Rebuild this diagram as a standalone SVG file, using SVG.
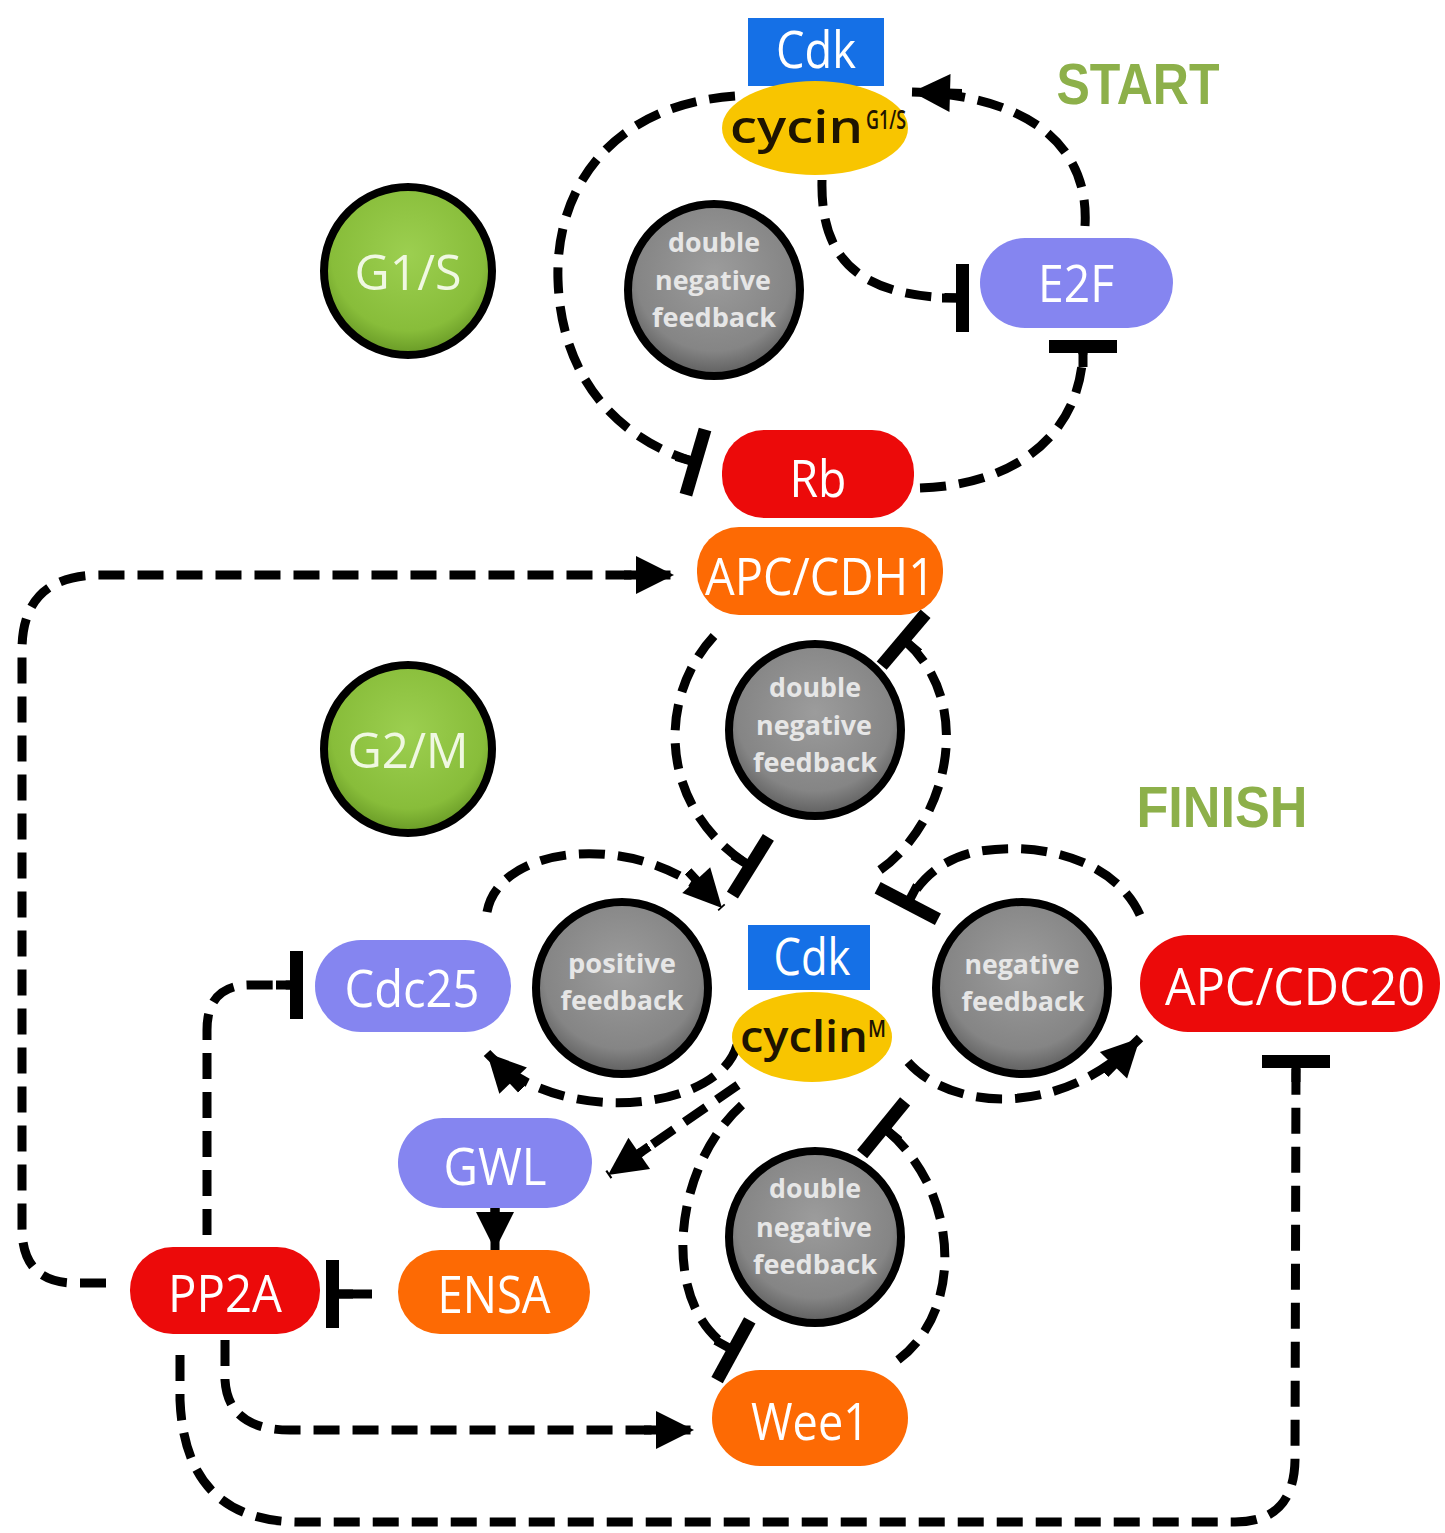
<svg xmlns="http://www.w3.org/2000/svg" width="1445" height="1533" viewBox="0 0 1445 1533">
<defs>
<style>
.dash{fill:none;stroke:#000;stroke-width:9;stroke-dasharray:26 13;}
.solid{fill:none;stroke:#000;stroke-width:9;}
.lbl{font-family:"Open Sans","Noto Sans",sans-serif;fill:#fff;text-anchor:middle;font-size:52px;}
.fb{font-family:"Open Sans","Noto Sans",sans-serif;font-weight:bold;fill:#e6e6e6;font-size:27px;text-anchor:middle;}
.cyc{font-family:"Open Sans","Noto Sans",sans-serif;font-weight:600;fill:#1e1400;}
.gtxt{font-family:"Open Sans","Noto Sans",sans-serif;fill:#f0f8e2;text-anchor:middle;font-size:50px;}
.phase{font-family:"Liberation Sans",Arial,sans-serif;font-weight:bold;fill:#8db04a;text-anchor:middle;font-size:58px;}
.gray{fill:url(#gGray);stroke:#000;stroke-width:8;}
.green{fill:url(#gGreen);stroke:#000;stroke-width:8;}
.blue{fill:#1570e6;}
.yel{fill:#f8c500;}
.lav{fill:#8585f0;}
.red{fill:#ec0a0a;}
.org{fill:#fd6a04;}
</style>
<radialGradient id="gGray" cx="50%" cy="40%" r="65%">
<stop offset="0" stop-color="#9c9c9c"/><stop offset="0.7" stop-color="#858585"/><stop offset="1" stop-color="#505050"/>
</radialGradient>
<radialGradient id="gGreen" cx="50%" cy="40%" r="65%">
<stop offset="0" stop-color="#9ccf50"/><stop offset="0.7" stop-color="#88bd3a"/><stop offset="1" stop-color="#5c8c1e"/>
</radialGradient>
<marker id="arr" viewBox="-12 -20 52 40" markerWidth="52" markerHeight="40" refX="38" refY="0" orient="auto" markerUnits="userSpaceOnUse">
<path d="M0,-19 L38,0 L0,19 Z" fill="#000"/><rect x="-12" y="-4.5" width="14" height="9" fill="#000"/>
</marker>
<marker id="tee" viewBox="-20 -36 28 72" markerWidth="28" markerHeight="72" refX="0" refY="0" orient="auto" markerUnits="userSpaceOnUse">
<rect x="-6" y="-34" width="13" height="68" fill="#000"/><rect x="-20" y="-4.5" width="16" height="9" fill="#000"/>
</marker>
</defs>
<rect width="1445" height="1533" fill="#fff"/>

<g id="connectors">
<path class="dash" d="M 735 96 C 610 105 555 190 558 280 C 561 380 620 440 695 462" marker-end="url(#tee)"/>
<path class="dash" d="M 1085 226 C 1090 140 1020 95 912 92" marker-end="url(#arr)"/>
<path class="dash" d="M 822 180 C 820 262 862 298 962 298" marker-end="url(#tee)"/>
<path class="dash" d="M 920 488 C 1020 485 1083 430 1083 347" marker-end="url(#tee)"/>
<path class="dash" d="M 106 1283 L 75 1283 Q 22 1283 22 1228 L 22 650 Q 22 575 100 575 L 674 575" marker-end="url(#arr)"/>
<path class="dash" d="M 714 636 C 655 700 660 810 750 866" marker-end="url(#tee)"/>
<path class="dash" d="M 880 870 C 950 820 975 700 904 640" marker-end="url(#tee)"/>
<path class="dash" d="M 1140 915 C 1115 860 1040 840 975 852 C 940 860 920 880 908 903" marker-end="url(#tee)"/>
<path class="dash" d="M 908 1062 C 950 1110 1060 1120 1140 1038" marker-end="url(#arr)"/>
<path class="dash" d="M 487 912 C 500 840 650 830 722 908" marker-end="url(#arr)"/>
<path class="dash" d="M 737 1045 C 720 1110 560 1130 487 1053" marker-end="url(#arr)"/>
<path class="dash" d="M 738 1085 L 608 1175" marker-end="url(#arr)"/>
<path class="dash" d="M 742 1105 C 670 1170 660 1310 733 1350" marker-end="url(#tee)"/>
<path class="dash" d="M 898 1360 C 965 1310 960 1190 884 1128" marker-end="url(#tee)"/>
<path class="solid" d="M 495 1208 L 495 1250" marker-end="url(#arr)"/>
<path class="solid" d="M 372 1294 L 333 1294" marker-end="url(#tee)"/>
<path class="dash" d="M 207 1235 L 207 1030 Q 207 985 250 985 L 296 985" marker-end="url(#tee)"/>
<path class="dash" d="M 225 1340 L 225 1380 Q 228 1430 290 1430 L 694 1430" marker-end="url(#arr)"/>
<path class="dash" d="M 180 1355 L 180 1400 Q 185 1522 300 1522 L 1235 1522 Q 1294 1522 1295 1460 L 1296 1062" marker-end="url(#tee)"/>
</g>

<g id="cdk-g1s">
<rect class="blue" x="748" y="18" width="136" height="68"/>
<text class="lbl" x="816" y="68" font-size="42" textLength="80" lengthAdjust="spacingAndGlyphs">Cdk</text>
</g>
<g id="cyclin-g1s">
<ellipse class="yel" cx="815" cy="128" rx="93" ry="47"/>
<text class="cyc" x="730" y="143" font-size="46" textLength="133" lengthAdjust="spacingAndGlyphs">cycin</text>
<text class="cyc" x="866" y="129" font-size="27" textLength="40" lengthAdjust="spacingAndGlyphs">G1/S</text>
</g>
<g id="start">
<text class="phase" x="1138" y="104" textLength="163" lengthAdjust="spacingAndGlyphs">START</text>
</g>
<g id="g1s">
<circle class="green" cx="408" cy="271" r="84"/>
<text class="gtxt" x="408" y="290" textLength="107" lengthAdjust="spacingAndGlyphs">G1/S</text>
</g>
<g id="dnf-top">
<circle class="gray" cx="714" cy="290" r="86"/>
<text class="fb" x="714" y="252" textLength="92" lengthAdjust="spacingAndGlyphs">double</text>
<text class="fb" x="713" y="290" textLength="116" lengthAdjust="spacingAndGlyphs">negative</text>
<text class="fb" x="714" y="327" textLength="124" lengthAdjust="spacingAndGlyphs">feedback</text>
</g>
<g id="e2f">
<rect class="lav" x="980" y="238" width="193" height="90" rx="45"/>
<text class="lbl" x="1076" y="302" font-size="48" textLength="76" lengthAdjust="spacingAndGlyphs">E2F</text>
</g>
<g id="rb">
<rect class="red" x="722" y="430" width="192" height="88" rx="42"/>
<text class="lbl" x="818" y="497" textLength="57" lengthAdjust="spacingAndGlyphs">Rb</text>
</g>
<g id="apc-cdh1">
<rect class="org" x="697" y="527" width="246" height="88" rx="42"/>
<text class="lbl" x="820" y="595" textLength="230" lengthAdjust="spacingAndGlyphs">APC/CDH1</text>
</g>
<g id="g2m">
<circle class="green" cx="408" cy="749" r="84"/>
<text class="gtxt" x="408" y="768" textLength="121" lengthAdjust="spacingAndGlyphs">G2/M</text>
</g>
<g id="dnf-mid">
<circle class="gray" cx="815" cy="730" r="86"/>
<text class="fb" x="815" y="697" textLength="92" lengthAdjust="spacingAndGlyphs">double</text>
<text class="fb" x="814" y="735" textLength="116" lengthAdjust="spacingAndGlyphs">negative</text>
<text class="fb" x="815" y="772" textLength="124" lengthAdjust="spacingAndGlyphs">feedback</text>
</g>
<g id="finish">
<text class="phase" x="1222" y="827" textLength="171" lengthAdjust="spacingAndGlyphs">FINISH</text>
</g>
<g id="cdc25">
<rect class="lav" x="315" y="940" width="196" height="92" rx="46"/>
<text class="lbl" x="412" y="1007" textLength="135" lengthAdjust="spacingAndGlyphs">Cdc25</text>
</g>
<g id="pos-fb">
<circle class="gray" cx="622" cy="988" r="86"/>
<text class="fb" x="622" y="973" textLength="108" lengthAdjust="spacingAndGlyphs">positive</text>
<text class="fb" x="622" y="1010" textLength="123" lengthAdjust="spacingAndGlyphs">feedback</text>
</g>
<g id="cdk-m">
<rect class="blue" x="748" y="925" width="122" height="65"/>
<text class="lbl" x="812" y="975" font-size="42" textLength="77" lengthAdjust="spacingAndGlyphs">Cdk</text>
</g>
<g id="cyclin-m">
<ellipse class="yel" cx="812" cy="1037" rx="80" ry="45"/>
<text class="cyc" x="740" y="1052" font-size="44" textLength="128" lengthAdjust="spacingAndGlyphs">cyclin</text>
<text class="cyc" x="868" y="1037" font-size="24" textLength="18" lengthAdjust="spacingAndGlyphs">M</text>
</g>
<g id="neg-fb">
<circle class="gray" cx="1022" cy="988" r="86"/>
<text class="fb" x="1022" y="974" textLength="115" lengthAdjust="spacingAndGlyphs">negative</text>
<text class="fb" x="1023" y="1011" textLength="123" lengthAdjust="spacingAndGlyphs">feedback</text>
</g>
<g id="apc-cdc20">
<rect class="red" x="1140" y="935" width="300" height="97" rx="48"/>
<text class="lbl" x="1295" y="1005" textLength="260" lengthAdjust="spacingAndGlyphs">APC/CDC20</text>
</g>
<g id="gwl">
<rect class="lav" x="398" y="1118" width="194" height="90" rx="45"/>
<text class="lbl" x="495" y="1185" textLength="103" lengthAdjust="spacingAndGlyphs">GWL</text>
</g>
<g id="ensa">
<rect class="org" x="398" y="1250" width="192" height="84" rx="42"/>
<text class="lbl" x="494" y="1313" textLength="113" lengthAdjust="spacingAndGlyphs">ENSA</text>
</g>
<g id="pp2a">
<rect class="red" x="130" y="1247" width="190" height="87" rx="43"/>
<text class="lbl" x="225" y="1312" textLength="114" lengthAdjust="spacingAndGlyphs">PP2A</text>
</g>
<g id="dnf-bot">
<circle class="gray" cx="815" cy="1237" r="86"/>
<text class="fb" x="815" y="1198" textLength="92" lengthAdjust="spacingAndGlyphs">double</text>
<text class="fb" x="814" y="1237" textLength="116" lengthAdjust="spacingAndGlyphs">negative</text>
<text class="fb" x="815" y="1274" textLength="124" lengthAdjust="spacingAndGlyphs">feedback</text>
</g>
<g id="wee1">
<rect class="org" x="712" y="1370" width="196" height="96" rx="48"/>
<text class="lbl" x="810" y="1440" textLength="118" lengthAdjust="spacingAndGlyphs">Wee1</text>
</g>
</svg>
